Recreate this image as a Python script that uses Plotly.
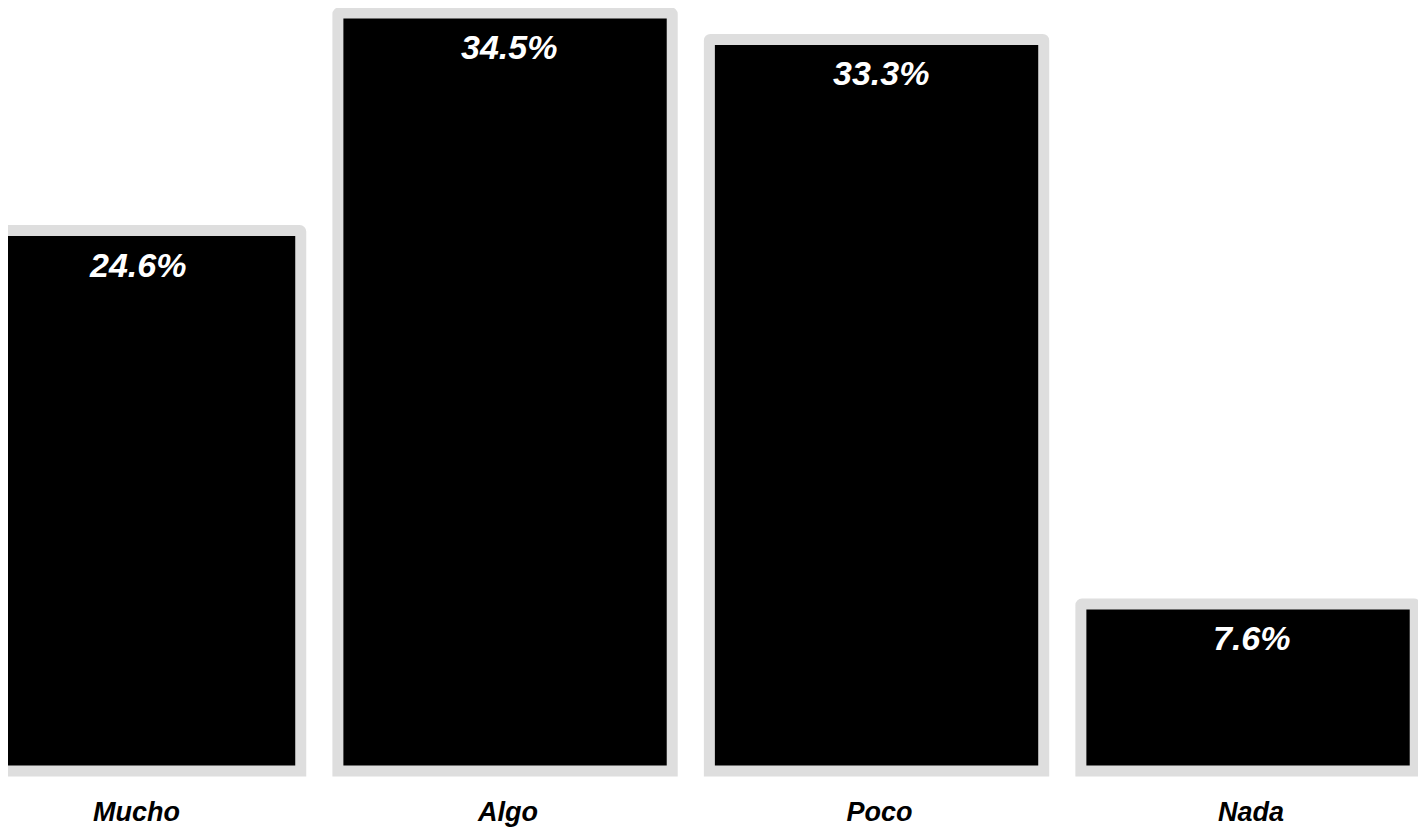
import plotly.graph_objects as go

categories = ["Mucho", "Algo", "Poco", "Nada"]
values = [24.6, 34.5, 33.3, 7.6]
labels = ["24.6%", "34.5%", "33.3%", "7.6%"]

FONT = "Liberation Sans, Arial, sans-serif"

fig = go.Figure(
    go.Bar(
        x=categories,
        y=values,
        cliponaxis=False,
        marker=dict(color="#000000", line=dict(color="#dedede", width=11), cornerradius=1),
        hoverinfo="skip",
    )
)

for c, v, t in zip(categories, values, labels):
    fig.add_annotation(
        x=c, y=v, text=t, showarrow=False, yanchor="top", xanchor="center",
        yshift=-13, xshift=4,
        font=dict(family=FONT, size=34, color="white", weight="bold", style="italic"),
    )

fig.update_layout(
    width=1418,
    height=821,
    margin=dict(l=0, r=0, t=0, b=50),
    paper_bgcolor="white",
    plot_bgcolor="white",
    bargap=0.1,
    showlegend=False,
    xaxis=dict(
        range=[-0.338, 3.479],
        automargin=False,
        showgrid=False, zeroline=False, showline=False, ticks="",
        ticklabelstandoff=14, ticklabelshift=3,
        tickfont=dict(family=FONT, size=27, color="black", weight="bold", style="italic"),
    ),
    yaxis=dict(range=[-0.364, 34.73], visible=False, automargin=False,
               showgrid=False, zeroline=False),
)

fig.write_html("out.html")
